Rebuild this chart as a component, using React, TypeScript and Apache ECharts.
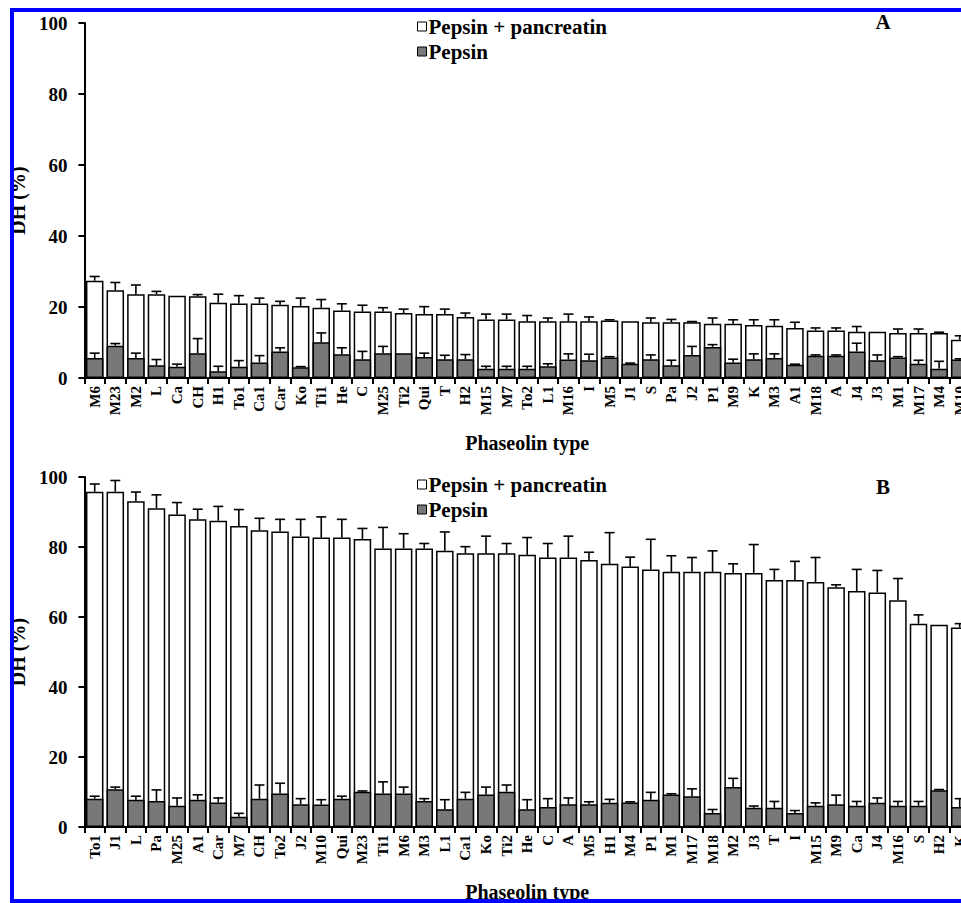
import React, { useEffect, useRef } from "react";
import * as echarts from "echarts";

const categoriesA = ["M6","M23","M2","L","Ca","CH","H1","To1","Ca1","Car","Ko","Ti1","He","C","M25","Ti2","Qui","T","H2","M15","M7","To2","L1","M16","I","M5","J1","S","Pa","J2","P1","M9","K","M3","A1","M18","A","J4","J3","M1","M17","M4","M10"];
const totalA = [27.4,24.7,23.6,23.6,23.2,23.0,21.2,21.0,21.0,20.6,20.3,19.8,19.0,18.7,18.7,18.3,18.0,18.0,17.2,16.5,16.5,16.0,16.0,16.0,16.0,16.2,16.0,15.7,15.7,15.7,15.3,15.3,14.9,14.7,14.1,13.4,13.4,13.0,13.0,12.7,12.7,12.7,10.8];
const totalErrA = [1.2,2.2,2.6,0.8,0,0.5,2.4,2.2,1.5,1.0,2.2,2.3,1.9,1.8,1.1,1.1,2.1,1.4,1.1,1.5,1.5,1.6,0.9,2.0,1.2,0.2,0,1.2,0.8,0.2,1.6,1.1,1.5,1.7,1.6,0.7,0.7,1.5,0,1.1,1.1,0.2,1.1];
const pepsinA = [5.6,9.1,5.6,3.6,3.2,7.0,1.9,3.2,4.4,7.5,3.0,10.1,6.7,5.3,7.0,7.0,5.9,5.3,5.3,2.6,2.6,2.6,3.3,5.2,5.0,5.8,4.0,5.3,3.6,6.5,8.7,4.4,5.3,5.6,3.7,6.3,6.3,7.5,5.0,5.8,4.0,2.6,5.2];
const pepsinErrA = [1.4,0.6,1.4,1.6,0.7,4.1,1.4,1.7,1.9,1.0,0.2,2.6,1.8,2.2,1.9,0,1.1,1.1,1.3,0.7,0.7,0.7,0.7,1.6,1.7,0.2,0.2,1.2,1.4,2.4,0.7,0.9,1.5,1.2,0.2,0.2,0.2,2.3,1.5,0.2,1.0,2.1,0.2];

const categoriesB = ["To1","J1","L","Pa","M25","A1","Car","M7","CH","To2","J2","M10","Qui","M23","Ti1","M6","M3","L1","Ca1","Ko","Ti2","He","C","A","M5","H1","M4","P1","M1","M17","M18","M2","J3","T","I","M15","M9","Ca","J4","M16","S","H2","K"];
const totalB = [95.8,95.8,93.1,91.1,89.3,87.9,87.5,86.0,84.8,84.4,83.0,82.7,82.7,82.3,79.6,79.6,79.6,78.9,78.2,78.2,78.2,77.8,77.0,77.0,76.3,75.2,74.4,73.6,72.9,72.9,72.9,72.6,72.6,70.6,70.6,70.0,68.5,67.4,67.0,64.8,58.1,57.8,57.0];
const totalErrB = [2.2,3.2,2.6,3.8,3.4,2.9,4.1,4.7,3.4,3.5,4.9,5.9,5.2,3.0,6.0,4.2,1.4,5.4,1.9,4.9,2.8,4.9,4.0,6.1,2.2,8.9,2.7,8.6,4.6,4.1,6.0,2.6,8.1,3.0,5.3,7.0,0.7,6.2,6.3,6.2,2.5,0,1.1];
const pepsinB = [8.1,10.8,7.8,7.4,6.1,7.8,7.0,2.9,8.1,9.6,6.5,6.4,8.1,10.1,9.6,9.6,7.4,5.1,8.1,9.3,10.1,5.1,5.7,6.5,6.5,6.9,7.0,7.8,9.3,8.8,4.0,11.4,5.5,5.5,4.0,6.1,6.5,6.1,6.9,6.1,6.1,10.5,5.7];
const pepsinErrB = [0.7,0.6,1.0,3.2,2.2,1.4,1.3,1.0,3.9,2.9,1.6,1.4,0.7,0.2,3.3,1.8,0.7,2.7,1.8,2.1,1.9,2.7,2.4,1.8,0.7,1.0,0.2,2.1,0.2,2.1,1.0,2.5,0.5,1.8,0.7,0.8,2.6,1.2,1.4,1.2,1.2,0.2,2.4];

const yTicks = [0, 20, 40, 60, 80, 100];
const legendNames = ["Pepsin + pancreatin", "Pepsin"];

const FONT = "Liberation Serif";

function errData(vals: number[], errs: number[]) {
  return vals.map((v, i) => [i, v, errs[i]]);
}

function renderErr(params: any, api: any) {
  const x = api.value(0);
  const v = api.value(1);
  const e = api.value(2);
  if (!e) return null;
  const p0 = api.coord([x, v]);
  const p1 = api.coord([x, v + e]);
  const st = { stroke: "#000", lineWidth: 1.6 };
  return {
    type: "group",
    children: [
      { type: "line", shape: { x1: p0[0], y1: p0[1], x2: p1[0], y2: p1[1] }, style: st },
      { type: "line", shape: { x1: p1[0] - 5, y1: p1[1], x2: p1[0] + 5, y2: p1[1] }, style: st },
    ],
  };
}

function xAxisCfg(idx: number, cats: string[]) {
  return {
    type: "category",
    gridIndex: idx,
    data: cats,
    axisLine: { lineStyle: { color: "#000", width: 2 } },
    axisTick: { show: true, length: 6, lineStyle: { color: "#000", width: 2 } },
    axisLabel: { rotate: 90, interval: 0, fontSize: 15, fontWeight: "bold", fontFamily: FONT, color: "#000", margin: 8 },
    name: "Phaseolin type",
    nameLocation: "middle",
    nameGap: 55,
    nameTextStyle: { fontSize: 20, fontWeight: "bold", fontFamily: FONT, color: "#000" },
  };
}

function yAxisCfg(idx: number) {
  return {
    type: "value",
    gridIndex: idx,
    min: yTicks[0],
    max: yTicks[yTicks.length - 1],
    interval: yTicks[1] - yTicks[0],
    splitLine: { show: false },
    axisLine: { show: true, lineStyle: { color: "#000", width: 2 } },
    axisTick: { show: true, length: 6, lineStyle: { color: "#000", width: 2 } },
    axisLabel: { fontSize: 19, fontWeight: "bold", fontFamily: FONT, color: "#000", margin: 17 },
    name: "DH (%)",
    nameLocation: "middle",
    nameGap: 40,
    nameTextStyle: { fontSize: 20, fontWeight: "bold", fontFamily: FONT, color: "#000" },
  };
}

function seriesFor(idx: number, total: number[], totalErr: number[], pep: number[], pepErr: number[]) {
  return [
    {
      type: "bar", name: legendNames[0], xAxisIndex: idx, yAxisIndex: idx, data: total,
      barWidth: "85%", barGap: "-100%",
      itemStyle: { color: "#ffffff", borderColor: "#000", borderWidth: 1.5 },
    },
    {
      type: "bar", name: legendNames[1], xAxisIndex: idx, yAxisIndex: idx, data: pep,
      barWidth: "85%", barGap: "-100%",
      itemStyle: { color: "#787878", borderColor: "#000", borderWidth: 1.5 },
    },
    {
      type: "custom", name: "errTotal" + idx, xAxisIndex: idx, yAxisIndex: idx,
      data: errData(total, totalErr), renderItem: renderErr, encode: { x: 0, y: 1 }, z: 5,
    },
    {
      type: "custom", name: "errPep" + idx, xAxisIndex: idx, yAxisIndex: idx,
      data: errData(pep, pepErr), renderItem: renderErr, encode: { x: 0, y: 1 }, z: 5,
    },
  ];
}

function legendCfg(top: number) {
  return {
    orient: "vertical",
    left: 412,
    top,
    icon: "rect",
    itemWidth: 9,
    itemHeight: 9,
    itemGap: 4,
    selectedMode: false,
    data: legendNames,
    itemStyle: { borderColor: "#000", borderWidth: 1 },
    textStyle: { fontSize: 21, fontWeight: "bold", fontFamily: FONT, color: "#000", lineHeight: 21, padding: [0, 0, 0, -3] },
  };
}

export default function App() {
  const ref = useRef<HTMLDivElement>(null);
  useEffect(() => {
    if (!ref.current) return;
    const chart = echarts.init(ref.current, null, { renderer: "svg" });
    chart.setOption({
      animation: false,
      backgroundColor: "#fff",
      grid: [
        { left: 81, top: 23, width: 889, height: 355 },
        { left: 81, top: 477, width: 889, height: 360 },
      ],
      legend: [legendCfg(11), legendCfg(469)],
      xAxis: [xAxisCfg(0, categoriesA), xAxisCfg(1, categoriesB)],
      yAxis: [yAxisCfg(0), yAxisCfg(1)],
      series: [
        ...seriesFor(0, totalA, totalErrA, pepsinA, pepsinErrA),
        ...seriesFor(1, totalB, totalErrB, pepsinB, pepsinErrB),
      ],
      graphic: [
        { type: "text", x: 883, y: 22, style: { text: "A", fontSize: 21, fontWeight: "bold", fontFamily: FONT, fill: "#000", textAlign: "center", textVerticalAlign: "middle" } },
        { type: "text", x: 883, y: 487, style: { text: "B", fontSize: 21, fontWeight: "bold", fontFamily: FONT, fill: "#000", textAlign: "center", textVerticalAlign: "middle" } },
        { type: "rect", shape: { x: 10, y: 8, width: 980, height: 4 }, style: { fill: "#0000ff" }, z: 100 },
        { type: "rect", shape: { x: 10, y: 8, width: 4, height: 895 }, style: { fill: "#0000ff" }, z: 100 },
        { type: "rect", shape: { x: 10, y: 899, width: 980, height: 4 }, style: { fill: "#0000ff" }, z: 100 },
      ],
    });
    return () => chart.dispose();
  }, []);
  return (
    <div style={{ position: "absolute", left: 0, top: 0, width: 961, height: 903, overflow: "hidden", background: "#fff" }}>
      <div ref={ref} style={{ width: 990, height: 903 }} />
    </div>
  );
}
